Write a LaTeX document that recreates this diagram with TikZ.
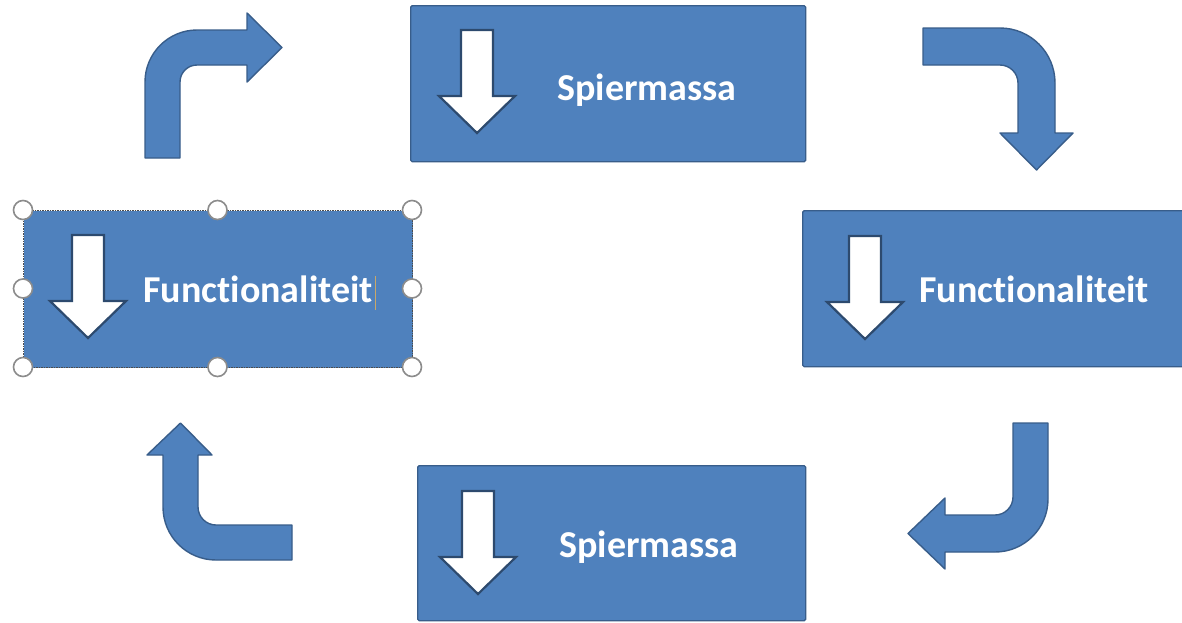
\documentclass[tikz,border=0pt]{standalone}
\usepackage{fontspec}
\setmainfont{Carlito}[Ligatures=NoCommon]
\definecolor{boxblue}{HTML}{4F81BD}
\definecolor{edgeblue}{HTML}{385D8A}
\definecolor{handlegray}{HTML}{8C8C8C}
\definecolor{caretcol}{HTML}{C8A86A}
\tikzset{
  panel/.style={draw=edgeblue, line width=1.4pt, fill=boxblue, rounded corners=1.5pt,
    inner sep=0pt, anchor=north west},
  selpanel/.style={draw=black!70, line width=1.2pt, dash pattern=on 1.5pt off 1pt,
    fill=boxblue, inner sep=0pt, anchor=north west},
  label/.style={text=white, font=\fontsize{38}{40}\selectfont\bfseries, anchor=base, inner sep=0pt},
  bent/.style={draw=edgeblue, line width=1.4pt, fill=boxblue, line join=round},
  handle/.style={circle, draw=handlegray, line width=1.6pt, fill=white, minimum size=19pt, inner sep=0pt},
  darr/.pic={\draw[draw=edgeblue!80!black, line width=2.2pt, fill=white, line join=miter]
    (-16,0) -- (16,0) -- (16,66) -- (38,66) -- (0,103) -- (-38,66) -- (-16,66) -- cycle;}
}
\begin{document}
\begin{tikzpicture}[x=1pt, y=-1pt]
\clip (0,0) rectangle (1182,622);
\fill[white] (0,0) rectangle (1182,622);

% four panels
\node[panel, minimum width=395pt, minimum height=156pt] (top) at (410,5) {};
\node[panel, minimum width=390pt, minimum height=156pt] (right) at (802,210) {};
\node[panel, minimum width=388pt, minimum height=155pt] (bottom) at (417,465) {};
\node[selpanel, minimum width=389pt, minimum height=157pt] (left) at (23,210) {};

% white down arrows inside the panels
\pic at (477,30) {darr};
\pic at (865,236) {darr};
\pic at (478,491) {darr};
\pic at (88,235) {darr};

% panel captions
\node[label] (toptext) at (647,100) {Spiermassa};
\node[label] (righttext) at (1034,302) {Functionaliteit};
\node[label] (bottomtext) at (649,557) {Spiermassa};
\node[label] (lefttext) at (258,302) {Functionaliteit};

% text caret after the left caption
\coordinate (caretA) at (375,276);
\coordinate (caretB) at (375,310);
\draw[caretcol, line width=1pt] (caretA) -- (caretB);

% selection handles of the left panel
\foreach \hx/\hy/\hn in {23/210/a, 217.5/210/b, 412/210/c, 23/288.5/d, 412/288.5/e, 23/367/f, 217.5/367/g, 412/367/h}
  \node[handle] (h\hn) at (\hx,\hy) {};

% bent arrows running clockwise between the panels
\draw[bent] (145,158) -- (145,82) .. controls (145,53.3) and (168.3,30) .. (197,30)
  -- (247,30) -- (247,13) -- (282,47.5) -- (247,82) -- (247,65) -- (197,65)
  .. controls (187.6,65) and (180,72.6) .. (180,82) -- (180,158) -- cycle;

\draw[bent] (923,28) -- (1000,28) .. controls (1030.4,28) and (1055,52.6) .. (1055,83)
  -- (1055,133) -- (1073,133) -- (1036.5,170) -- (1000,133) -- (1018,133) -- (1018,83)
  .. controls (1018,73.1) and (1009.9,65) .. (1000,65) -- (923,65) -- cycle;

\draw[bent] (1013,423) -- (1048,423) -- (1048,499) .. controls (1048,528.3) and (1024.3,552) .. (995,552)
  -- (945,552) -- (945,569) -- (908,533.5) -- (945,498) -- (945,515) -- (995,515)
  .. controls (1004.9,515) and (1013,506.9) .. (1013,497) -- cycle;

\draw[bent] (292,525) -- (216,525) .. controls (206.1,525) and (198,516.9) .. (198,507)
  -- (198,455) -- (212,455) -- (180.5,423) -- (147,455) -- (163,455) -- (163,507)
  .. controls (163,536.3) and (186.7,560) .. (216,560) -- (292,560) -- cycle;
\end{tikzpicture}
\end{document}
